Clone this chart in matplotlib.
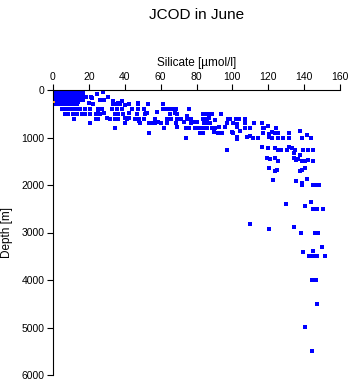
import matplotlib
matplotlib.use("Agg")
import matplotlib.pyplot as plt

plt.rcParams["font.family"] = ["Liberation Sans", "DejaVu Sans"]

# dense near-surface cluster (silicate, depth)
blob_si = [0.4, 1.9, 3.4, 4.9, 6.4, 7.9, 9.4, 10.9, 12.4,
           0.4, 1.9, 3.4, 4.9, 6.4, 7.9, 9.4, 10.9, 12.4, 13.9, 15.4, 16.9,
           0.4, 1.9, 3.4, 4.9, 6.4, 7.9, 9.4, 10.9, 12.4, 13.9, 15.4, 16.9,
           0.4, 1.9, 3.4, 4.9, 6.4, 7.9, 9.4, 10.9, 12.4, 13.9, 15.4, 16.9, 18.4,
           0.4, 1.9, 3.4, 4.9, 6.4, 7.9, 9.4, 10.9, 12.4, 13.9, 15.4, 16.9,
           0.4, 1.9, 3.4, 4.9, 6.4, 7.9, 9.4, 10.9, 12.4, 13.9,
           0.4, 1.9, 3.4, 4.9, 6.4, 7.9, 9.4, 10.9, 12.4]
blob_depth = [0, 0, 0, 0, 0, 0, 0, 0, 0,
              50, 50, 50, 50, 50, 50, 50, 50, 50, 50, 50, 50,
              100, 100, 100, 100, 100, 100, 100, 100, 100, 100, 100, 100,
              150, 150, 150, 150, 150, 150, 150, 150, 150, 150, 150, 150, 150,
              200, 200, 200, 200, 200, 200, 200, 200, 200, 200, 200, 200,
              250, 250, 250, 250, 250, 250, 250, 250, 250, 250,
              300, 300, 300, 300, 300, 300, 300, 300, 300]

# scattered samples, upper layer (< ~1000 m)
upper_si = [27.7, 24.7, 30.5, 21.0, 21.9, 26.2, 28.6, 33.6, 38.6, 33.6, 35.1, 37.3,
            36.4, 40.3, 42.5, 47.5, 47.5, 53.1, 61.5, 20.2, 22.5, 13.5,
            5.0, 6.7, 8.4, 10.0, 11.7, 13.4, 15.1, 17.8, 20.6, 25.3, 27.1, 32.7,
            35.5, 38.3, 43.9, 47.5, 50.7, 52.6, 51.3, 58.1, 61.5, 63.0, 65.2,
            67.1, 68.6, 76.0,
            6.7, 8.5, 11.3, 13.2, 16.0, 17.8, 20.6, 24.0, 26.2, 34.6, 36.4, 38.9,
            46.7, 65.2, 69.3, 25.3, 28.4, 42.5, 51.8, 68.0,
            11.7, 24.0, 25.3, 29.9, 31.8, 34.6, 36.4, 40.1, 41.4, 42.5, 45.7,
            48.1, 48.1, 50.7, 56.9, 63.4, 65.8, 69.3, 74.5, 75.4, 76.9,
            20.6, 40.1, 48.5, 53.7, 55.0, 56.9, 58.7, 60.0, 63.4, 68.6,
            34.6, 61.9, 69.3, 53.7,
            83.6, 85.3, 87.0, 88.6, 93.8, 74.9, 74.5, 76.4, 71.2, 83.4, 85.7,
            87.1, 90.1, 97.7, 98.7, 102.0, 103.8, 107.0,
            73.0, 77.1, 79.2, 80.1, 84.2, 85.7, 87.5, 97.2, 100.2, 102.7, 107.0,
            112.0, 116.3,
            74.1, 76.0, 79.2, 79.7, 81.5, 83.8, 86.0, 88.5, 90.3, 92.7, 95.9,
            102.7, 107.2, 109.8, 116.9, 117.6, 119.7, 124.3,
            81.9, 83.8, 89.9, 92.1, 94.0, 99.6, 100.5, 104.2, 116.9, 120.6,
            121.9, 123.7, 125.6, 131.7, 137.7,
            74.1, 102.4, 102.7, 108.0, 109.8, 111.3, 114.4, 120.6, 121.9, 125.6,
            128.0, 131.7, 138.6, 141.7, 143.6]
upper_depth = [36, 91, 154, 141, 175, 210, 210, 225, 225, 301, 301, 301,
               267, 322, 301, 267, 301, 301, 301, 280, 295, 301,
               406, 406, 406, 406, 406, 406, 406, 406, 406, 406, 406, 406,
               406, 406, 406, 406, 406, 490, 512, 469, 406, 406, 406,
               406, 406, 406,
               512, 512, 512, 512, 512, 512, 512, 512, 512, 512, 512, 512,
               512, 512, 512, 490, 490, 490, 490, 490,
               617, 610, 610, 596, 610, 617, 617, 596, 610, 596, 610,
               610, 646, 610, 610, 610, 610, 610, 583, 610, 610,
               701, 701, 701, 701, 701, 701, 680, 701, 701, 701,
               806, 806, 785, 911,
               505, 505, 505, 505, 505, 547, 610, 610, 610, 610, 610,
               596, 631, 610, 610, 610, 610, 610,
               680, 695, 680, 680, 701, 701, 688, 701, 701, 722, 701,
               701, 701,
               806, 806, 794, 806, 806, 806, 806, 806, 794, 773, 785,
               773, 806, 806, 806, 806, 764, 806,
               911, 911, 890, 911, 911, 878, 911, 863, 911, 926,
               878, 911, 911, 911, 857,
               1004, 983, 1025, 983, 968, 1004, 1004, 983, 1004, 1004,
               1004, 1004, 1017, 947, 1017]

# deep samples (>= ~1000 m)
deep_si = [97.2, 116.7, 120.0, 123.7, 125.6, 126.9, 130.6, 131.7, 133.1, 134.7,
           139.5, 142.3, 144.8, 134.5, 137.7,
           119.5, 121.0, 123.9, 125.6, 134.5, 135.5, 136.7, 138.6, 140.5, 142.3,
           144.8,
           120.6, 124.7, 123.9, 137.7, 138.6, 140.6,
           122.8, 135.6, 138.6, 138.8, 144.8, 146.6, 148.4, 141.7,
           129.9, 143.6, 140.6, 144.8, 147.0, 150.7,
           110.0, 120.6, 134.5, 138.4, 146.0, 147.5,
           149.8, 144.8, 139.5, 142.9, 145.1, 147.0, 151.6,
           144.5, 146.6, 147.3, 140.6, 144.5]
deep_depth = [1257, 1194, 1215, 1215, 1257, 1257, 1257, 1194, 1227, 1257,
              1257, 1257, 1257, 1332, 1362,
              1425, 1459, 1438, 1501, 1425, 1474, 1452, 1501, 1501, 1474,
              1501,
              1648, 1684, 1711, 1699, 1684, 1648,
              1895, 1916, 1964, 2006, 2006, 2006, 2006, 1880,
              2406, 2351, 2442, 2511, 2511, 2511,
              2827, 2926, 2890, 3004, 3017, 3004,
              3299, 3383, 3410, 3501, 3501, 3501, 3501,
              4006, 4006, 4498, 4995, 5500]

# single highlighted sample
hl_si = [0.5]
hl_depth = [250]

xticks = [0, 20, 40, 60, 80, 100, 120, 140, 160]
yticks = [0, 1000, 2000, 3000, 4000, 5000, 6000]

fig = plt.figure(figsize=(3.51, 3.84), dpi=100)
ax = fig.add_axes([53 / 351, 1 - 375 / 384, 287 / 351, 285 / 384])

blue = "#0000ff"
ax.scatter(blob_si, blob_depth, s=5, marker="s", color=blue, linewidths=0)
ax.scatter(upper_si, upper_depth, s=5, marker="s", color=blue, linewidths=0)
ax.scatter(deep_si, deep_depth, s=5, marker="s", color=blue, linewidths=0)
ax.scatter(hl_si, hl_depth, s=4, marker="s", color="#f0a030", linewidths=0,
           zorder=3)

ax.set_xlim(0, 160)
ax.set_ylim(6000, 0)
ax.xaxis.tick_top()
ax.xaxis.set_label_position("top")
ax.set_xticks(xticks)
ax.set_yticks(yticks)
ax.tick_params(axis="both", direction="out", length=4, width=0.8,
               labelsize=7.5, pad=2)
for side in ("bottom", "right"):
    ax.spines[side].set_visible(False)
for side in ("top", "left"):
    ax.spines[side].set_linewidth(0.8)

ax.set_xlabel("Silicate [µmol/l]", fontsize=8.5, labelpad=4)
ax.set_ylabel("Depth [m]", fontsize=8.5)
ax.yaxis.set_label_coords(-40 / 287, 0.5)
fig.text(197 / 351, 1 - 15 / 384, "JCOD in June", ha="center", va="center",
         fontsize=11)

fig.savefig("out.png", dpi=100)
